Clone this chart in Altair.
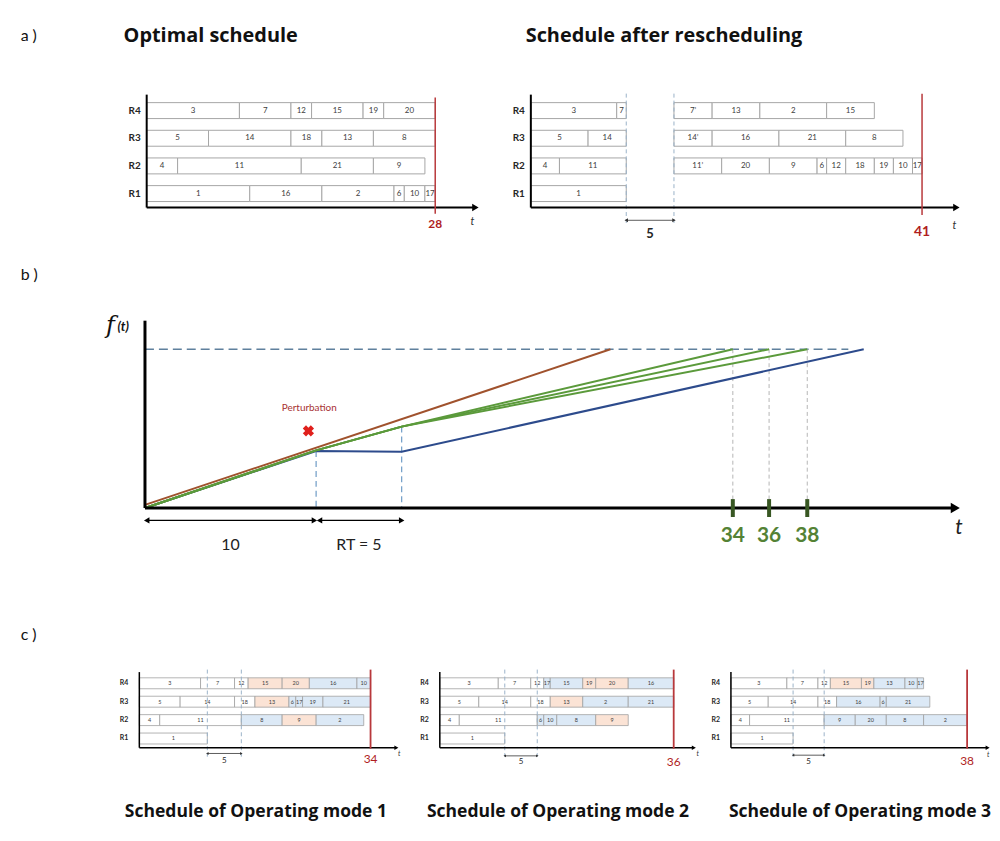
import altair as alt
import pandas as pd

FONT = "Lato"
TITLE_FONT = "Open Sans"
RES = ["R4", "R3", "R2", "R1"]
FILL_DOMAIN = ["same", "kept", "moved"]
FILL_RANGE = ["#FFFFFF", "#FBE3D5", "#DCE9F6"]

PERTURB_T = 10
REPAIR_T = 15

# ---------------- a) optimal schedule ----------------
OPT_RES = ["R4"] * 6 + ["R3"] * 5 + ["R2"] * 4 + ["R1"] * 6
OPT_TASK = ["3", "7", "12", "15", "19", "20", "5", "14", "18", "13", "8",
            "4", "11", "21", "9", "1", "16", "2", "6", "10", "17"]
OPT_START = [0, 9, 14, 16, 21, 23, 0, 6, 14, 17, 22, 0, 3, 15, 22, 0, 10, 17, 24, 25, 27]
OPT_END = [9, 14, 16, 21, 23, 28, 6, 14, 17, 22, 28, 3, 15, 22, 27, 10, 17, 24, 25, 27, 28]
OPT_MAKESPAN = 28

# ---------------- a) schedule after rescheduling ----------------
RS_RES = ["R4"] * 6 + ["R3"] * 6 + ["R2"] * 11 + ["R1"]
RS_TASK = ["3", "7", "7’", "13", "2", "15", "5", "14", "14’", "16", "21", "8",
           "4", "11", "11’", "20", "9", "6", "12", "18", "19", "10", "17", "1"]
RS_START = [0, 9, 15, 19, 24, 31, 0, 6, 15, 19, 26, 33, 0, 3, 15, 20, 25, 30, 31, 33, 36, 38, 40, 0]
RS_END = [9, 10, 19, 24, 31, 36, 6, 10, 19, 26, 33, 39, 3, 10, 20, 25, 30, 31, 33, 36, 38, 40, 41, 10]
RS_MAKESPAN = 41

# ---------------- c) operating modes ----------------
M1_RES = ["R4"] * 7 + ["R3"] * 8 + ["R2"] * 5 + ["R1"]
M1_TASK = ["3", "7", "12", "15", "20", "16", "10", "5", "14", "18", "13", "6", "17", "19", "21",
           "4", "11", "8", "9", "2", "1"]
M1_START = [0, 9, 14, 16, 21, 25, 32, 0, 6, 14, 17, 22, 23, 24, 27, 0, 3, 15, 21, 26, 0]
M1_END = [9, 14, 16, 21, 25, 32, 34, 6, 14, 17, 22, 23, 24, 27, 34, 3, 15, 21, 26, 33, 10]
M1_KIND = ["same", "same", "same", "kept", "kept", "moved", "moved",
           "same", "same", "same", "kept", "moved", "moved", "moved", "moved",
           "same", "same", "moved", "kept", "moved", "same"]

M2_RES = ["R4"] * 8 + ["R3"] * 6 + ["R2"] * 6 + ["R1"]
M2_TASK = ["3", "7", "12", "17", "15", "19", "20", "16", "5", "14", "18", "13", "2", "21",
           "4", "11", "6", "10", "8", "9", "1"]
M2_START = [0, 9, 14, 16, 17, 22, 24, 29, 0, 6, 14, 17, 22, 29, 0, 3, 15, 16, 18, 24, 0]
M2_END = [9, 14, 16, 17, 22, 24, 29, 36, 6, 14, 17, 22, 29, 36, 3, 15, 16, 18, 24, 29, 10]
M2_KIND = ["same", "same", "same", "moved", "moved", "kept", "kept", "moved",
           "same", "same", "same", "kept", "moved", "moved",
           "same", "same", "moved", "moved", "moved", "kept", "same"]

M3_RES = ["R4"] * 8 + ["R3"] * 6 + ["R2"] * 6 + ["R1"]
M3_TASK = ["3", "7", "12", "15", "19", "13", "10", "17", "5", "14", "18", "16", "6", "21",
           "4", "11", "9", "20", "8", "2", "1"]
M3_START = [0, 9, 14, 16, 21, 23, 28, 30, 0, 6, 14, 17, 24, 25, 0, 3, 15, 20, 25, 31, 0]
M3_END = [9, 14, 16, 21, 23, 28, 30, 31, 6, 14, 17, 24, 25, 32, 3, 15, 20, 25, 31, 38, 10]
M3_KIND = ["same", "same", "same", "kept", "kept", "moved", "moved", "moved",
           "same", "same", "same", "moved", "moved", "moved",
           "same", "same", "moved", "moved", "moved", "moved", "same"]
MODE_MAKESPAN = [34, 36, 38]

# ---------------- b) f(t) curves ----------------
B_OPT_T = [0.0, 27.2]
B_OPT_F = [2.0, 100.0]
B_PERT_T = [0.0, 10.0, 15.0]
B_PERT_F = [0.0, 36.3, 51.3]
B_MODE_END_T = [34.35, 36.47, 38.7]
B_MODE_LABELS = ["34", "36", "38"]
B_TARGET_F = 100.0
B_TARGET_END_T = 41.1
B_DELAY_T = [0.0, 10.0, 15.0, 42.0]
B_DELAY_F = [0.0, 35.9, 35.5, 100.0]
B_PERT_MARK = (9.55, 48.6)
B_PERT_TEXT = (9.6, 62.8)


def sched(res, task, start, end, kind=None):
    return pd.DataFrame({"res": res, "task": task, "start": start, "end": end,
                         "kind": kind if kind is not None else ["same"] * len(res)})


def txt_layer(label, x, y, size, weight="normal", style="normal", color="#111",
              align="center", font=FONT):
    return alt.Chart(pd.DataFrame({"label": [label]})).mark_text(
        fontSize=size, fontWeight=weight, fontStyle=style, color=color, align=align,
        baseline="alphabetic", font=font).encode(
        x=alt.value(x), y=alt.value(y), text="label:N")


def gantt(df, c):
    xs = alt.Scale(domain=[c["xmin"], c["xmax"]], nice=False, zero=False)
    ys = alt.Scale(domain=RES, paddingInner=c["pin"], paddingOuter=c["pout"])
    h = c["h"]

    def X(f):
        return alt.X(f, scale=xs, axis=None)

    Y = alt.Y("res:N", scale=ys, axis=None)
    L = []
    L.append(alt.Chart(df).mark_bar(stroke=c["stroke"], strokeWidth=c["sw"]).encode(
        x=X("start:Q"), x2="end:Q", y=Y,
        fill=alt.Fill("kind:N", scale=alt.Scale(domain=FILL_DOMAIN, range=FILL_RANGE), legend=None)))
    L.append(alt.Chart(df).transform_calculate(mid="(datum.start + datum.end) / 2").mark_text(
        fontSize=c["fs"], color="#404040", font=FONT).encode(x=X("mid:Q"), y=Y, text="task:N"))
    L.append(alt.Chart(pd.DataFrame({"res": RES, "t0": [0] * 4})).mark_text(
        align="right", dx=-c["res_dx"], fontSize=c["res_fs"], fontWeight="bold", font=FONT,
        color="#262626").encode(x=X("t0:Q"), y=Y, text="res:N"))
    if c.get("pert"):
        pdf = pd.DataFrame({"t": [PERTURB_T, REPAIR_T]})
        L.append(alt.Chart(pdf).mark_rule(color="#9AB2C9", strokeDash=[4, 3], strokeWidth=1).encode(
            x=X("t:Q"), y=alt.value(c["dash_y"][0]), y2=alt.value(c["dash_y"][1])))
        adf = pd.DataFrame({"t0": [PERTURB_T], "t1": [REPAIR_T],
                            "mid": [(PERTURB_T + REPAIR_T) / 2],
                            "label": [str(REPAIR_T - PERTURB_T)]})
        L.append(alt.Chart(adf).mark_rule(color="#333", strokeWidth=0.8).encode(
            x=X("t0:Q"), x2="t1:Q", y=alt.value(c["arr_y"])))
        L.append(alt.Chart(adf).mark_point(shape="triangle-left", filled=True, color="#333",
                                           size=c["ahead"], opacity=1).encode(
            x=X("t0:Q"), y=alt.value(c["arr_y"])))
        L.append(alt.Chart(adf).mark_point(shape="triangle-right", filled=True, color="#333",
                                           size=c["ahead"], opacity=1).encode(
            x=X("t1:Q"), y=alt.value(c["arr_y"])))
        L.append(alt.Chart(adf).mark_text(fontSize=c["five_fs"], fontWeight=c["five_w"],
                                          color="#262626", font=FONT).encode(
            x=X("mid:Q"), y=alt.value(c["five_y"]), text="label:N"))
    ax = pd.DataFrame({"t0": [0], "t1": [c["arrow"]]})
    L.append(alt.Chart(ax).mark_rule(color="black", strokeWidth=c["aw"]).encode(
        x=X("t0:Q"), y=alt.value(c["ytop"]), y2=alt.value(h)))
    L.append(alt.Chart(ax).mark_rule(color="black", strokeWidth=c["aw"]).encode(
        x=X("t0:Q"), x2="t1:Q", y=alt.value(h)))
    L.append(alt.Chart(ax).mark_point(shape="triangle-right", filled=True, color="black",
                                      size=c["head"], opacity=1).encode(
        x=X("t1:Q"), y=alt.value(h)))
    ms = pd.DataFrame({"t": [c["makespan"]], "label": [str(c["makespan"])]})
    L.append(alt.Chart(ms).mark_rule(color="#B8383B", strokeWidth=c["red_w"]).encode(
        x=X("t:Q"), y=alt.value(c["red_y"][0]), y2=alt.value(c["red_y"][1])))
    L.append(alt.Chart(ms).mark_text(color="#B01E1E", fontSize=c["ms_fs"], fontWeight=c["ms_w"],
                                     font=FONT).encode(
        x=X("t:Q"), y=alt.value(c["ms_y"]), text="label:N"))
    tl = pd.DataFrame({"t": [c["t_x"]], "label": ["t"]})
    L.append(alt.Chart(tl).mark_text(fontStyle="italic", fontSize=c["t_fs"], color="#333",
                                     font=FONT).encode(
        x=X("t:Q"), y=alt.value(c["t_y"]), text="label:N"))
    w = (c["xmax"] - c["xmin"]) * c["ppu"]
    return L, w, h


A_COMMON = dict(h=111.5, pin=0.424, pout=0.2175, stroke="#A6A6A6", sw=1, fs=8, res_fs=10,
                res_dx=6, aw=2, ytop=-2, head=55, red_w=1.5, t_fs=11, ms_w="bold")
CFG_AL = dict(A_COMMON, xmin=-0.714, xmax=32.2, ppu=10.357, arrow=31.9, makespan=OPT_MAKESPAN,
              red_y=(1, 117.7), ms_fs=12, ms_y=127.8, t_x=31.6, t_y=126)
CFG_AR = dict(A_COMMON, xmin=0, xmax=44.9, ppu=9.59, arrow=44.6, makespan=RS_MAKESPAN,
              red_y=(-3, 119), ms_fs=14, ms_y=135.7, t_x=44.4, t_y=130, pert=True,
              dash_y=(-3, 127), arr_y=124.3, ahead=16, five_y=138.3, five_fs=13, five_w="bold")
C_COMMON = dict(h=74, pin=0.405, pout=0.2025, stroke="#A0A0A0", sw=0.8, fs=5.5,
                res_fs=7, res_dx=11, aw=1.5, ytop=-2, head=22, red_w=1.8, ms_fs=12,
                ms_w="normal", t_fs=7, pert=True, dash_y=(-4.5, 83), ahead=8, five_fs=8,
                five_w="normal")
CFG_C1 = dict(C_COMMON, xmin=0, xmax=38.1, ppu=6.835, arrow=37.8, makespan=MODE_MAKESPAN[0],
              red_y=(-4.5, 75), ms_y=85.5, t_x=38.2, t_y=80, arr_y=79.8, five_y=87.2)
CFG_C2 = dict(C_COMMON, xmin=-0.873, xmax=39.4, ppu=6.53, arrow=39.1, makespan=MODE_MAKESPAN[1],
              red_y=(-4.5, 75), ms_y=88.5, t_x=39.7, t_y=80, arr_y=82.2, five_y=88.8)
CFG_C3 = dict(C_COMMON, xmin=0, xmax=41.6, ppu=6.247, arrow=41.3, makespan=MODE_MAKESPAN[2],
              red_y=(-4.5, 75), ms_y=87.5, t_x=41.4, t_y=81, arr_y=81.5, five_y=88.2)

# ---- row a ----
L, w, h = gantt(sched(OPT_RES, OPT_TASK, OPT_START, OPT_END), CFG_AL)
L += [txt_layer("a )", -119.3, -56, 16, align="left"),
      txt_layer("Optimal schedule", 71.7, -55, 20, weight="bold", font=TITLE_FONT)]
a_left = alt.layer(*L).properties(width=w, height=h)

L, w, h = gantt(sched(RS_RES, RS_TASK, RS_START, RS_END), CFG_AR)
L += [txt_layer("Schedule after rescheduling", 133.8, -55, 20, weight="bold", font=TITLE_FONT)]
a_right = alt.layer(*L).properties(width=w, height=h)

# ---- row b ----
B_PPU = 17.2
B_FPU = 1.596
B_FMIN, B_FMAX = 37.11, 118.0
b_xs = alt.Scale(domain=[-0.33, 47.7], nice=False, zero=False)
b_ys = alt.Scale(domain=[B_FMIN, B_FMAX], nice=False, zero=False)


def bX(f):
    return alt.X(f, scale=b_xs, axis=None)


def bY(f):
    return alt.Y(f, scale=b_ys, axis=None)


BL = []
BL.append(alt.Chart(pd.DataFrame({"t0": [0], "t1": [B_TARGET_END_T], "f": [B_TARGET_F]}))
          .mark_rule(color="#5F809D", strokeDash=[9, 5], strokeWidth=1.5)
          .encode(x=bX("t0:Q"), x2="t1:Q", y=bY("f:Q")))
BL.append(alt.Chart(pd.DataFrame({"t": [PERTURB_T, REPAIR_T], "f": [B_DELAY_F[1], B_PERT_F[2]],
                                  "z": [0, 0]}))
          .mark_rule(color="#6E9CC6", strokeDash=[6, 4], strokeWidth=1.2)
          .encode(x=bX("t:Q"), y=bY("f:Q"), y2="z:Q"))
BL.append(alt.Chart(pd.DataFrame({"t": B_MODE_END_T, "f": [B_TARGET_F] * 3, "z": [0] * 3}))
          .mark_rule(color="#B5B5B5", strokeDash=[4, 3], strokeWidth=1)
          .encode(x=bX("t:Q"), y=bY("f:Q"), y2="z:Q"))
BL.append(alt.Chart(pd.DataFrame({"t": B_DELAY_T, "f": B_DELAY_F}))
          .mark_line(color="#2D4B8C", strokeWidth=2)
          .encode(x=bX("t:Q"), y=bY("f:Q")))
mode_rows = []
for i, te in enumerate(B_MODE_END_T):
    for tt, ff in zip(B_PERT_T + [te], B_PERT_F + [B_TARGET_F]):
        mode_rows.append({"mode": f"m{i + 1}", "t": tt, "f": ff})
BL.append(alt.Chart(pd.DataFrame(mode_rows)).mark_line(color="#5B9A3B", strokeWidth=2)
          .encode(x=bX("t:Q"), y=bY("f:Q"), detail="mode:N"))
BL.append(alt.Chart(pd.DataFrame({"t": B_OPT_T, "f": B_OPT_F}))
          .mark_line(color="#A0522D", strokeWidth=2)
          .encode(x=bX("t:Q"), y=bY("f:Q")))
bax = pd.DataFrame({"t0": [0.0], "t1": [47.35], "f0": [0.0], "f1": [118.0]})
BL.append(alt.Chart(bax).mark_rule(color="black", strokeWidth=3)
          .encode(x=bX("t0:Q"), y=bY("f0:Q"), y2="f1:Q"))
BL.append(alt.Chart(bax).mark_rule(color="black", strokeWidth=3)
          .encode(x=bX("t0:Q"), x2="t1:Q", y=bY("f0:Q")))
BL.append(alt.Chart(bax).mark_point(shape="triangle-right", filled=True, color="black", size=110,
                                    opacity=1)
          .encode(x=bX("t1:Q"), y=bY("f0:Q")))
mdf = pd.DataFrame({"t": B_MODE_END_T, "z": [0] * 3, "label": B_MODE_LABELS})
BL.append(alt.Chart(mdf).mark_tick(orient="vertical", thickness=4, size=18, color="#385723",
                                   opacity=1)
          .encode(x=bX("t:Q"), y=bY("z:Q")))
BL.append(alt.Chart(mdf).mark_text(fontSize=21, fontWeight="bold", color="#548235", dy=17.4 * B_FPU,
                                   font=FONT)
          .encode(x=bX("t:Q"), y=bY("z:Q"), text="label:N"))
arr = pd.DataFrame({"t0": [0.1, 10.2], "t1": [9.9, 15.0], "f": [-7.8, -7.8]})
BL.append(alt.Chart(arr).mark_rule(color="black", strokeWidth=1.3)
          .encode(x=bX("t0:Q"), x2="t1:Q", y=bY("f:Q")))
BL.append(alt.Chart(arr).mark_point(shape="triangle-left", filled=True, color="black", size=40,
                                    opacity=1)
          .encode(x=bX("t0:Q"), y=bY("f:Q")))
BL.append(alt.Chart(arr).mark_point(shape="triangle-right", filled=True, color="black", size=40,
                                    opacity=1)
          .encode(x=bX("t1:Q"), y=bY("f:Q")))
lab = pd.DataFrame({"t": [PERTURB_T / 2, (PERTURB_T + REPAIR_T) / 2], "f": [-23, -23],
                    "label": [str(PERTURB_T), f"RT = {REPAIR_T - PERTURB_T}"]})
BL.append(alt.Chart(lab).mark_text(fontSize=16, color="#222", font=FONT)
          .encode(x=bX("t:Q"), y=bY("f:Q"), text="label:N"))
BL.append(alt.Chart(pd.DataFrame({"t": [B_PERT_TEXT[0]], "f": [B_PERT_TEXT[1]], "label": ["Perturbation"]}))
          .mark_text(fontSize=10, color="#A83232", font=FONT)
          .encode(x=bX("t:Q"), y=bY("f:Q"), text="label:N"))
BL.append(alt.Chart(pd.DataFrame({"t": [B_PERT_MARK[0]], "f": [B_PERT_MARK[1]]}))
          .mark_point(shape="cross", angle=45, filled=True, size=130, color="#E0201C", opacity=1)
          .encode(x=bX("t:Q"), y=bY("f:Q")))
BL.append(alt.Chart(pd.DataFrame({"t": [47.56], "f": [-12.3], "label": ["t"]}))
          .mark_text(fontSize=21, fontStyle="italic", color="#222", font=FONT)
          .encode(x=bX("t:Q"), y=bY("f:Q"), text="label:N"))
BL.append(txt_layer("f", -29, 12, 24, style="italic", font="DejaVu Serif"))
BL.append(txt_layer("(t)", -22, 10, 13, style="italic", weight="bold", align="left"))
BL.append(txt_layer("b )", -119.3, -41.2, 16, align="left"))
b_chart = alt.layer(*BL).properties(width=48.03 * B_PPU, height=(B_FMAX - B_FMIN) * B_FPU)

# ---- row c ----
BOTTOM_Y = 143.5
TITLE_FS = 17.6
L, w, h = gantt(sched(M1_RES, M1_TASK, M1_START, M1_END, M1_KIND), CFG_C1)
L += [txt_layer("c )", -119.3, -34.5, 16, align="left"),
      txt_layer("Schedule of Operating mode 1", 117.2, BOTTOM_Y, TITLE_FS, weight="bold", font=TITLE_FONT)]
c1 = alt.layer(*L).properties(width=w, height=h)
L, w, h = gantt(sched(M2_RES, M2_TASK, M2_START, M2_END, M2_KIND), CFG_C2)
L += [txt_layer("Schedule of Operating mode 2", 124.5, BOTTOM_Y, TITLE_FS, weight="bold", font=TITLE_FONT)]
c2 = alt.layer(*L).properties(width=w, height=h)
L, w, h = gantt(sched(M3_RES, M3_TASK, M3_START, M3_END, M3_KIND), CFG_C3)
L += [txt_layer("Schedule of Operating mode 3", 129.7, BOTTOM_Y, TITLE_FS, weight="bold", font=TITLE_FONT)]
c3 = alt.layer(*L).properties(width=w, height=h)

row_a = alt.hconcat(a_left, a_right, spacing=52.5, bounds="flush")
row_c = alt.hconcat(c1, c2, c3, spacing=35.3, bounds="flush")
chart = alt.vconcat(row_a, b_chart, row_c, spacing=225.2, bounds="flush").properties(
    padding={"left": 12, "top": 16, "right": 0, "bottom": 0},
    background="white",
).configure(
    font=FONT,
    view=alt.ViewConfig(stroke="transparent", strokeWidth=0),
)

chart.save("out.html", embed_options={"renderer": "svg", "actions": False})
